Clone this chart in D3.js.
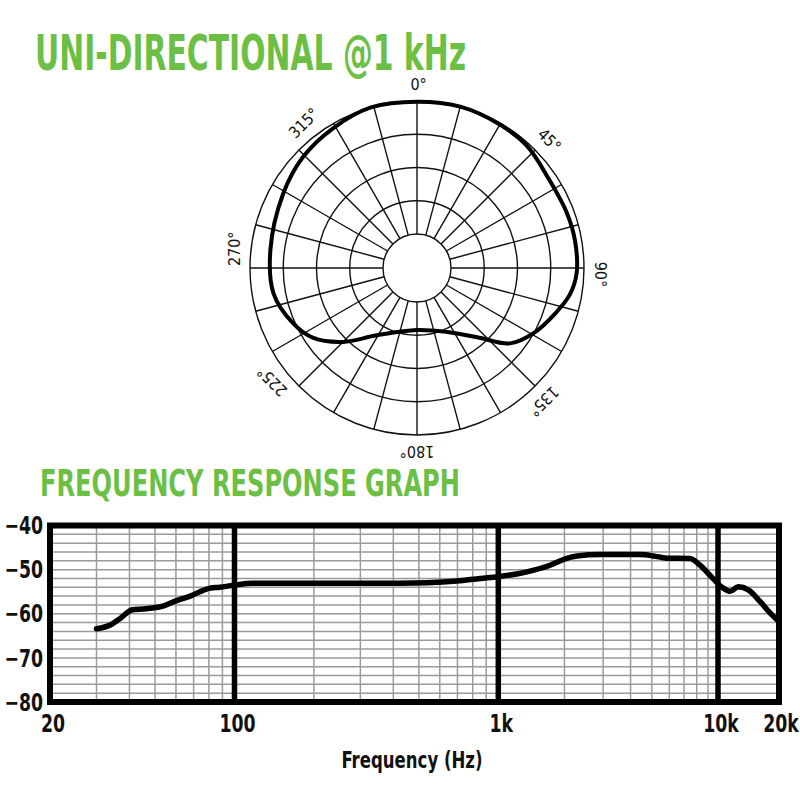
<!DOCTYPE html>
<html><head><meta charset="utf-8">
<script src="https://cdn.jsdelivr.net/npm/d3@7"></script>
<style>body{margin:0;background:#fff}svg{display:block}</style>
</head><body>
<svg id="chart" width="800" height="800"></svg>
<script>
// ---------- data ----------
const polarTitle = "UNI-DIRECTIONAL @1 kHz";
const freqTitle = "FREQUENCY RESPONSE GRAPH";
const xAxisTitle = "Frequency (Hz)";

// polar response: angle (deg, clockwise from front) and level (dB)
const polarAngles = [0, 15, 30, 42, 56, 70, 80, 92, 100, 108, 119, 129, 139, 155, 180, 211, 225, 236, 246, 260, 277, 299, 314, 329, 344];
const polarLevels = [-0.1, 0, -0.2, -0.4, -1.2, -1.1, -1.0, -1.1, -1.8, -3.2, -5.0, -7.1, -11.3, -14.5, -15.8, -13.3, -9.4, -6.3, -4.7, -3.2, -2.9, -2.1, -1.2, -0.6, 0];
const polarRingLevels = [-20, -15, -10, -5, 0];
const polarSpokeAngles = d3.range(0, 360, 15);
const polarLabelAngles = [0, 45, 90, 135, 180, 225, 270, 315];
const polarLabelTexts = ["0°", "45°", "90°", "135°", "180°", "225°", "270°", "315°"];

// frequency response
const freqHz = [30, 34, 37, 41, 45, 49, 54, 61, 68, 74, 81, 88, 100, 117, 275, 425, 537, 698, 855, 1000, 1350, 1720, 1980, 2280, 2900, 4420, 5080, 5850, 7460, 8280, 9520, 10620, 11460, 12590, 14110, 16120, 18060, 19490];
const freqDb = [-63.4, -62.5, -61.0, -59.1, -58.9, -58.7, -58.2, -56.9, -56.0, -55.0, -54.2, -54.0, -53.5, -53.1, -53.1, -53.1, -53.0, -52.6, -52.0, -51.6, -50.5, -49.0, -47.7, -46.9, -46.6, -46.6, -46.9, -47.4, -47.5, -49.0, -52.1, -54.2, -54.9, -53.9, -54.6, -57.2, -59.8, -61.3];
const xTickValues = [20, 100, 1000, 10000, 20000];
const xTickLabels = ["20", "100", "1k", "10k", "20k"];
const yTickValues = [-40, -50, -60, -70, -80];
const yTickLabels = ["−40", "−50", "−60", "−70", "−80"];
const majorGridHz = [100, 1000, 10000];
const minorGridHz = [30, 40, 50, 60, 70, 80, 90, 200, 300, 400, 500, 600, 700, 800, 900, 2000, 3000, 4000, 5000, 6000, 7000, 8000, 9000];
const gridDb = d3.range(-78, -40, 2);

// ---------- drawing ----------
const svg = d3.select("#chart");
const green = "#6cbf45";
const condensed = "'DejaVu Sans Condensed','Liberation Sans Narrow','Arial Narrow',sans-serif";
const labelAngleShift = {0: 0.5, 45: 1, 90: 2, 135: 1.5, 180: 0, 225: 7, 270: 6, 315: 7};

svg.append("text").attr("x", 35).attr("y", 70)
  .attr("font-family", condensed).attr("font-weight", "bold").attr("font-size", 50)
  .attr("fill", green).attr("textLength", 431).attr("lengthAdjust", "spacingAndGlyphs")
  .text(polarTitle);

// polar
const cx = 417, cy = 268;
const r = d3.scaleLinear().domain([-20, 0]).range([34, 167]);
const pg = svg.append("g").attr("transform", `translate(${cx},${cy})`);
pg.selectAll("circle.ring").data(polarRingLevels).join("circle")
  .attr("r", d => r(d)).attr("fill", "none").attr("stroke", "#111").attr("stroke-width", 1.4);
pg.selectAll("line.spoke").data(polarSpokeAngles).join("line")
  .attr("x1", d => r(-20) * Math.sin(d * Math.PI / 180))
  .attr("y1", d => -r(-20) * Math.cos(d * Math.PI / 180))
  .attr("x2", d => r(0) * Math.sin(d * Math.PI / 180))
  .attr("y2", d => -r(0) * Math.cos(d * Math.PI / 180))
  .attr("stroke", "#111").attr("stroke-width", 1.4);
const polarPts = polarAngles.map((a, i) => [a * Math.PI / 180, r(polarLevels[i])]);
pg.append("path").datum(polarPts)
  .attr("d", d3.lineRadial().angle(d => d[0]).radius(d => d[1]).curve(d3.curveCatmullRomClosed.alpha(0.5)))
  .attr("fill", "none").attr("stroke", "#000").attr("stroke-width", 4);
pg.selectAll("text.lab").data(polarLabelAngles).join("text")
  .attr("transform", d => {
    const a = (d + labelAngleShift[d]) * Math.PI / 180, rr = 184;
    return `translate(${rr * Math.sin(a)},${-rr * Math.cos(a)}) rotate(${d})`;
  })
  .attr("text-anchor", "middle").attr("dy", "0.35em")
  .attr("font-family", condensed).attr("font-size", 16).attr("fill", "#111")
  .text((d, i) => polarLabelTexts[i]);

// frequency title
svg.append("text").attr("x", 40).attr("y", 496)
  .attr("font-family", condensed).attr("font-weight", "bold").attr("font-size", 38)
  .attr("fill", green).attr("textLength", 420).attr("lengthAdjust", "spacingAndGlyphs")
  .text(freqTitle);

// frequency chart
const x = d3.scaleLog().domain([20, 100, 1000, 10000, 20000]).range([50, 234.5, 498.3, 718, 779]);
const y = d3.scaleLinear().domain([-80, -40]).range([702, 525.5]);
const fg = svg.append("g");
fg.selectAll("line.hg").data(gridDb).join("line")
  .attr("x1", x(20)).attr("x2", x(20000)).attr("y1", d => y(d)).attr("y2", d => y(d))
  .attr("stroke", "#9a9a9a").attr("stroke-width", 1.5);
fg.selectAll("line.vg").data(minorGridHz).join("line")
  .attr("x1", d => x(d)).attr("x2", d => x(d)).attr("y1", y(-40)).attr("y2", y(-80))
  .attr("stroke", "#9a9a9a").attr("stroke-width", 1.5);
fg.selectAll("line.vm").data(majorGridHz).join("line")
  .attr("x1", d => x(d)).attr("x2", d => x(d)).attr("y1", y(-40)).attr("y2", y(-80))
  .attr("stroke", "#000").attr("stroke-width", 5.5);
fg.append("rect").attr("x", x(20)).attr("y", y(-40))
  .attr("width", x(20000) - x(20)).attr("height", y(-80) - y(-40))
  .attr("fill", "none").attr("stroke", "#000").attr("stroke-width", 6);
fg.append("path").datum(freqHz.map((f, i) => [f, freqDb[i]]))
  .attr("d", d3.line().x(d => x(d[0])).y(d => y(d[1])).curve(d3.curveMonotoneX))
  .attr("fill", "none").attr("stroke", "#000").attr("stroke-width", 5.5).attr("stroke-linecap", "round");

fg.selectAll("text.yt").data(yTickValues).join("text")
  .attr("transform", d => `translate(43,${y(d)}) scale(0.8,1)`).attr("dy", "0.36em").attr("text-anchor", "end")
  .attr("font-family", condensed).attr("font-weight", "bold").attr("font-size", 24).attr("fill", "#111")
  .text((d, i) => yTickLabels[i]);
fg.selectAll("text.xt").data(xTickValues).join("text")
  .attr("transform", d => `translate(${Math.min(x(d) + 3, 781)},732) scale(0.8,1)`).attr("text-anchor", "middle")
  .attr("font-family", condensed).attr("font-weight", "bold").attr("font-size", 24).attr("fill", "#111")
  .text((d, i) => xTickLabels[i]);
fg.append("text").attr("transform", "translate(412,768) scale(0.8,1)").attr("text-anchor", "middle")
  .attr("font-family", condensed).attr("font-weight", "bold").attr("font-size", 23).attr("fill", "#111")
  .text(xAxisTitle);
</script>
</body></html>
